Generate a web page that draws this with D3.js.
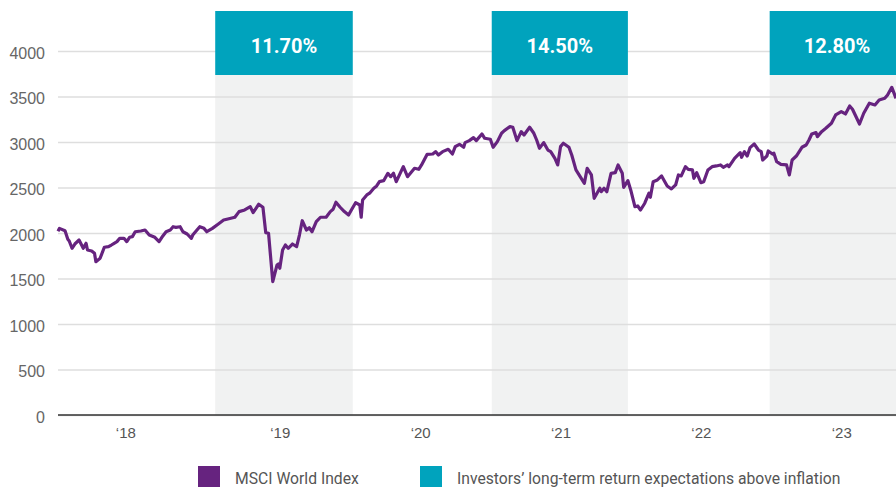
<!DOCTYPE html>
<html lang="en">
<head>
<meta charset="utf-8">
<title>MSCI World Index</title>
<style>
  body { margin: 0; background: #fff; }
  svg { display: block; font-family: Roboto, "Open Sans", sans-serif; }
  .y.axis text { fill: #666; font-size: 16px; }
  .y.axis line { stroke: #dedede; stroke-width: 1.5; }
  .x.axis text { fill: #555; font-size: 15px; }
  .x.axis path { stroke: #333; stroke-width: 1.5; }
  .legend text { fill: #555; font-size: 15.7px; }
</style>
</head>
<body>
<div id="chart"></div>
<script src="https://d3js.org/d3.v7.min.js"></script>
<script>
// MSCI World Index (time as decimal year)
var years = [
  2017.42, 2017.43, 2017.47, 2017.49, 2017.50, 2017.52, 2017.54, 2017.57, 2017.60, 2017.62,
  2017.63, 2017.66, 2017.68, 2017.69, 2017.72, 2017.75, 2017.78, 2017.80, 2017.82, 2017.84,
  2017.86, 2017.89, 2017.91, 2017.93, 2017.95, 2017.97, 2018.01, 2018.04, 2018.07, 2018.11,
  2018.14, 2018.16, 2018.19, 2018.22, 2018.24, 2018.26, 2018.29, 2018.31, 2018.34, 2018.37,
  2018.38, 2018.41, 2018.43, 2018.46, 2018.48, 2018.52, 2018.56, 2018.60, 2018.63, 2018.68,
  2018.71, 2018.75, 2018.79, 2018.81, 2018.85, 2018.88, 2018.90, 2018.92, 2018.95, 2018.98,
  2018.99, 2019.00, 2019.02, 2019.04, 2019.06, 2019.09, 2019.12, 2019.14, 2019.16, 2019.19,
  2019.21, 2019.23, 2019.26, 2019.29, 2019.33, 2019.36, 2019.38, 2019.40, 2019.43, 2019.46,
  2019.49, 2019.51, 2019.54, 2019.57, 2019.58, 2019.59, 2019.62, 2019.64, 2019.67, 2019.69,
  2019.71, 2019.74, 2019.77, 2019.79, 2019.81, 2019.83, 2019.88, 2019.91, 2019.96, 2019.99,
  2020.01, 2020.05, 2020.09, 2020.11, 2020.13, 2020.16, 2020.20, 2020.23, 2020.25, 2020.28,
  2020.31, 2020.32, 2020.35, 2020.38, 2020.40, 2020.44, 2020.46, 2020.50, 2020.52, 2020.55,
  2020.58, 2020.60, 2020.64, 2020.66, 2020.69, 2020.72, 2020.74, 2020.78, 2020.81, 2020.83,
  2020.85, 2020.88, 2020.91, 2020.93, 2020.96, 2020.98, 2021.00, 2021.02, 2021.06, 2021.08,
  2021.11, 2021.14, 2021.17, 2021.19, 2021.22, 2021.24, 2021.28, 2021.29, 2021.31, 2021.33,
  2021.36, 2021.39, 2021.41, 2021.44, 2021.45, 2021.48, 2021.50, 2021.53, 2021.55, 2021.57,
  2021.60, 2021.63, 2021.64, 2021.66, 2021.69, 2021.72, 2021.76, 2021.79, 2021.82, 2021.84,
  2021.86, 2021.89, 2021.91, 2021.94, 2021.95, 2021.97, 2022.00, 2022.02, 2022.05, 2022.08,
  2022.11, 2022.14, 2022.16, 2022.19, 2022.20, 2022.24, 2022.28, 2022.29, 2022.31, 2022.33,
  2022.35, 2022.38, 2022.41, 2022.43, 2022.44, 2022.47, 2022.48, 2022.51, 2022.52, 2022.54,
  2022.57, 2022.61, 2022.63, 2022.65, 2022.68, 2022.72, 2022.75, 2022.77, 2022.79, 2022.82,
  2022.83, 2022.86, 2022.89, 2022.93, 2022.96, 2023.00, 2023.03, 2023.06, 2023.08, 2023.13,
  2023.16, 2023.20, 2023.24, 2023.27, 2023.31, 2023.33, 2023.36, 2023.39
];
var index = [
  2020, 2051, 2025, 1931, 1912, 1832, 1879, 1923, 1832, 1887,
  1813, 1802, 1777, 1685, 1722, 1843, 1850, 1868, 1887, 1905,
  1942, 1942, 1905, 1953, 1960, 2014, 2022, 2033, 1978, 1953,
  1905, 1953, 2014, 2033, 2069, 2062, 2069, 2014, 1989, 1942,
  1978, 2033, 2069, 2051, 2014, 2051, 2096, 2143, 2154, 2173,
  2235, 2253, 2289, 2224, 2316, 2283, 2004, 1997, 1465, 1648,
  1659, 1612, 1813, 1868, 1832, 1879, 1850, 1978, 2135, 2033,
  2058, 2014, 2124, 2173, 2173, 2235, 2261, 2338, 2283, 2235,
  2198, 2253, 2333, 2308, 2173, 2363, 2418, 2437, 2492, 2517,
  2564, 2575, 2656, 2619, 2656, 2564, 2729, 2619, 2711, 2700,
  2748, 2865, 2868, 2894, 2857, 2894, 2920, 2868, 2949, 2975,
  2942, 2993, 3015, 3048, 3015, 3088, 3041, 3030, 2942, 3004,
  3096, 3125, 3169, 3162, 3015, 3114, 3077, 3162, 3096, 3022,
  2931, 2993, 2912, 2894, 2821, 2748, 2949, 2986, 2942, 2857,
  2693, 2619, 2546, 2711, 2638, 2381, 2492, 2454, 2492, 2454,
  2656, 2663, 2748, 2656, 2502, 2575, 2473, 2289, 2297, 2253,
  2327, 2437, 2393, 2564, 2583, 2627, 2517, 2484, 2528, 2638,
  2627, 2729, 2700, 2693, 2601, 2663, 2553, 2564, 2693, 2729,
  2737, 2748, 2722, 2748, 2729, 2821, 2883, 2832, 2894, 2846,
  2938, 2978, 2912, 2894, 2802, 2846, 2901, 2868, 2876, 2784,
  2755, 2748, 2638, 2802, 2846, 2942, 2967, 3022, 3088, 3103,
  3059, 3114, 3151, 3206, 3297, 3334, 3308, 3396, 3360, 3198,
  3316, 3426, 3407, 3462, 3480, 3517, 3601, 3480
];

// Periods with long-term return expectations above inflation
var bandStart = [2018.54, 2020.51, 2022.49];
var bandEnd = [2019.52, 2021.48, 2023.45];
var bandLabels = ["11.70%", "14.50%", "12.80%"];

// Axis ticks
var xTickValues = [2017.9, 2019, 2020, 2021, 2022, 2023];
var xTickLabels = ["\u201818", "\u201819", "\u201820", "\u201821", "\u201822", "\u201823"];
var yTickValues = [0, 500, 1000, 1500, 2000, 2500, 3000, 3500, 4000];

var legendLabels = ["MSCI World Index", "Investors\u2019 long-term return expectations above inflation"];

var purple = "#66237f";
var teal = "#00a3bd";

var width = 896, height = 487;
var left = 58, right = 896;

var x = d3.scaleLinear().domain([2017.42, 2023.39]).range([left, right]);
var y = d3.scaleLinear().domain([0, 4000]).range([415, 51]);

var svg = d3.select("#chart").append("svg")
    .attr("width", width)
    .attr("height", height);

// grey shaded periods
svg.selectAll("rect.band")
    .data(bandStart)
  .enter().append("rect")
    .attr("class", "band")
    .attr("x", function(d) { return x(d); })
    .attr("y", 75)
    .attr("width", function(d, i) { return Math.min(x(bandEnd[i]), right) - x(d); })
    .attr("height", y(0) - 75)
    .attr("fill", "#f1f2f2");

// y axis with gridlines
var yAxis = svg.append("g")
    .attr("class", "y axis")
    .attr("transform", "translate(" + left + ",0)")
    .call(d3.axisLeft(y).tickValues(yTickValues).tickFormat(d3.format("d"))
        .tickSize(-(right - left)).tickPadding(13));
yAxis.select(".domain").remove();
yAxis.selectAll("text").attr("dy", "0.45em");

// teal label boxes
var boxes = svg.selectAll("g.box")
    .data(bandStart)
  .enter().append("g")
    .attr("class", "box");
boxes.append("rect")
    .attr("x", function(d) { return x(d); })
    .attr("y", 11)
    .attr("width", function(d, i) { return Math.min(x(bandEnd[i]), right) - x(d); })
    .attr("height", 64)
    .attr("fill", teal);
boxes.append("text")
    .attr("x", function(d, i) { return (x(d) + x(bandEnd[i])) / 2; })
    .attr("y", 53)
    .attr("text-anchor", "middle")
    .attr("fill", "#fff")
    .style("font-size", "20px")
    .style("font-weight", "bold")
    .text(function(d, i) { return bandLabels[i]; });

// the index line
var line = d3.line()
    .x(function(d, i) { return x(years[i]); })
    .y(function(d) { return y(d); });

svg.append("path")
    .attr("d", line(index))
    .attr("fill", "none")
    .attr("stroke", purple)
    .attr("stroke-width", 3.2)
    .attr("stroke-linejoin", "round");

// x axis
var xAxis = svg.append("g")
    .attr("class", "x axis")
    .attr("transform", "translate(0," + y(0) + ")")
    .call(d3.axisBottom(x).tickValues(xTickValues).tickSize(0).tickPadding(12)
        .tickFormat(function(d, i) { return xTickLabels[i]; }));
xAxis.select(".domain").attr("d", "M" + left + ",0H" + right);

// legend
var legend = svg.append("g").attr("class", "legend");
var legendX = [198, 420];
var legendColors = [purple, teal];
legend.selectAll("rect")
    .data(legendLabels)
  .enter().append("rect")
    .attr("x", function(d, i) { return legendX[i]; })
    .attr("y", 466)
    .attr("width", 22)
    .attr("height", 22)
    .attr("fill", function(d, i) { return legendColors[i]; });
legend.selectAll("text")
    .data(legendLabels)
  .enter().append("text")
    .attr("x", function(d, i) { return legendX[i] + 37; })
    .attr("y", 484)
    .text(function(d) { return d; });
</script>
</body>
</html>
